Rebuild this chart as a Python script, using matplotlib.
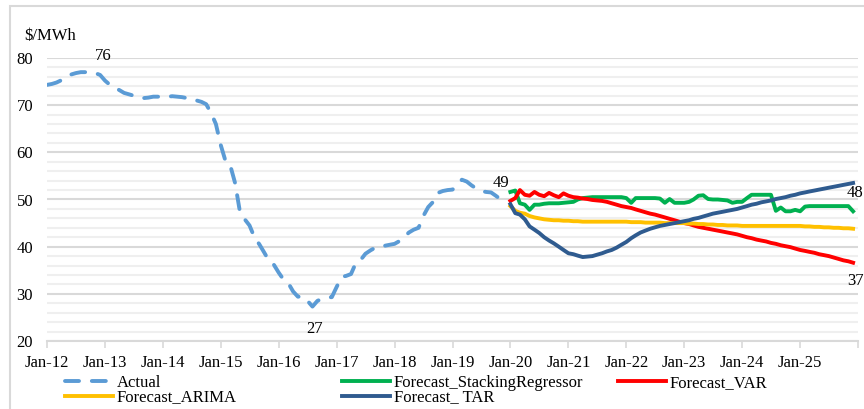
import pandas as pd
import matplotlib.pyplot as plt
import matplotlib.dates as mdates
from matplotlib.patches import Rectangle

plt.rcParams['font.family'] = ['Liberation Serif', 'DejaVu Serif']
plt.rcParams['font.size'] = 12

# monthly actual price, Jan-12 .. Dec-19
actual = [74.3, 74.5, 74.8, 75.3, 76.0, 76.5, 76.8, 77.0, 77.0, 77.0, 76.8, 76.4,
          75.2, 74.3, 73.7, 73.2, 72.6, 72.3, 72.0, 71.7, 71.5, 71.6, 71.8, 71.8,
          71.8, 71.8, 71.9, 71.8, 71.7, 71.5, 71.4, 71.0, 70.7, 70.2, 68.3, 66.0,
          61.5, 58.0, 57.3, 53.5, 47.5, 45.8, 44.5, 42.0, 40.5, 38.8, 37.0, 36.2,
          34.5, 33.0, 32.3, 30.5, 29.4, 29.4, 28.5, 27.3, 28.5, 29.0, 29.2, 29.3,
          31.5, 33.6, 33.8, 34.2, 36.5, 37.2, 38.5, 39.2, 39.8, 40.0, 40.2, 40.4,
          40.6, 41.2, 42.0, 43.0, 43.6, 44.0, 46.5, 48.4, 49.5, 51.4, 51.8, 52.0,
          52.1, 53.0, 54.2, 53.8, 53.0, 52.3, 51.8, 51.6, 51.5, 50.8, 50.0, 49.2]

# forecasts, Jan-20 .. Dec-25
stacking = [51.6, 51.9, 49.2, 48.9, 47.8, 48.9, 48.9, 49.1, 49.2, 49.2, 49.2, 49.3,
            49.4, 49.5, 50.0, 50.3, 50.4, 50.5, 50.5, 50.5, 50.5, 50.5, 50.5, 50.5,
            50.3, 49.3, 50.3, 50.3, 50.3, 50.3, 50.3, 50.2, 49.3, 50.1, 49.3, 49.3,
            49.3, 49.5, 50.0, 50.8, 50.9, 50.1, 50.0, 50.0, 49.9, 49.8, 49.3, 49.5,
            49.5, 50.3, 51.0, 51.0, 51.0, 51.0, 51.0, 47.6, 48.3, 47.5, 47.5, 47.8,
            47.5, 48.5, 48.6, 48.6, 48.6, 48.6, 48.6, 48.6, 48.6, 48.6, 48.6, 47.5]
var = [49.7, 50.3, 52.0, 51.0, 50.8, 51.6, 51.0, 50.7, 51.4, 50.9, 50.5, 51.3,
       50.8, 50.5, 50.4, 50.2, 50.1, 49.9, 49.8, 49.7, 49.5, 49.2, 48.9, 48.6,
       48.4, 48.2, 47.9, 47.6, 47.3, 47.0, 46.8, 46.5, 46.2, 45.9, 45.6, 45.3,
       45.0, 44.8, 44.5, 44.2, 44.0, 43.8, 43.6, 43.4, 43.2, 43.0, 42.8, 42.6,
       42.3, 42.0, 41.8, 41.5, 41.3, 41.1, 40.8, 40.6, 40.3, 40.1, 39.9, 39.6,
       39.3, 39.1, 38.9, 38.7, 38.4, 38.2, 38.0, 37.7, 37.4, 37.1, 36.9, 36.6]
arima = [48.6, 47.6, 47.2, 47.0, 46.5, 46.2, 46.0, 45.8, 45.7, 45.6, 45.6, 45.5,
         45.5, 45.4, 45.4, 45.3, 45.3, 45.3, 45.3, 45.3, 45.3, 45.3, 45.3, 45.3,
         45.3, 45.2, 45.2, 45.2, 45.1, 45.1, 45.1, 45.1, 45.0, 45.0, 45.0, 45.0,
         45.0, 44.9, 44.9, 44.8, 44.8, 44.7, 44.7, 44.6, 44.6, 44.5, 44.5, 44.5,
         44.4, 44.4, 44.4, 44.4, 44.4, 44.4, 44.4, 44.4, 44.4, 44.4, 44.4, 44.4,
         44.4, 44.3, 44.3, 44.2, 44.2, 44.1, 44.1, 44.0, 44.0, 43.9, 43.9, 43.8]
tar = [49.0, 47.1, 46.8, 45.8, 44.3, 43.6, 42.9, 42.0, 41.3, 40.7, 40.0, 39.3,
       38.6, 38.4, 38.1, 37.8, 37.9, 38.0, 38.3, 38.6, 39.0, 39.3, 39.8, 40.4,
       41.0, 41.8, 42.4, 43.0, 43.4, 43.8, 44.1, 44.4, 44.6, 44.8, 45.0, 45.2,
       45.4, 45.6, 45.9, 46.1, 46.4, 46.7, 47.0, 47.2, 47.4, 47.6, 47.8, 48.0,
       48.3, 48.6, 48.9, 49.1, 49.4, 49.6, 49.8, 50.1, 50.3, 50.5, 50.8, 51.0,
       51.3, 51.5, 51.7, 51.9, 52.1, 52.3, 52.5, 52.7, 52.9, 53.1, 53.3, 53.5]

act_dates = pd.date_range('2012-01-01', periods=len(actual), freq='MS')
fc_dates = pd.date_range('2020-01-01', periods=len(tar), freq='MS')

fig = plt.figure(figsize=(8.64, 4.09), dpi=100)
ax = fig.add_axes([47 / 864, 68 / 409, 811 / 864, 283 / 409])

lw = 2.8
l_act, = ax.plot(act_dates, actual, color='#5B9BD5', lw=lw, dashes=(3.6, 3.3),
                 dash_capstyle='round', label='Actual')
l_stk, = ax.plot(fc_dates, stacking, color='#00B050', lw=lw, label='Forecast_StackingRegressor')
l_var, = ax.plot(fc_dates, var, color='#FF0000', lw=lw, label='Forecast_VAR')
l_ari, = ax.plot(fc_dates, arima, color='#FFC000', lw=lw, label='Forecast_ARIMA')
l_tar, = ax.plot(fc_dates, tar, color='#2F5B8F', lw=lw, label='Forecast_ TAR')

# data labels
ax.annotate('76', (act_dates[11], actual[11]), xytext=(2, 14), textcoords='offset points',
            ha='center', va='center')
ax.annotate('27', (act_dates[55], actual[55]), xytext=(1.5, -16.5), textcoords='offset points',
            ha='center', va='center')
ax.annotate('49', (act_dates[-1], actual[-1]), xytext=(-3.6, 14.4), textcoords='offset points',
            ha='center', va='center')
ax.annotate('48', (fc_dates[-1], stacking[-1]), xytext=(1.5, 13.5), textcoords='offset points',
            ha='center', va='center')
ax.annotate('37', (fc_dates[-1], var[-1]), xytext=(1.5, -13.5), textcoords='offset points',
            ha='center', va='center')

# axes
ax.set_ylim(20, 80)
ax.set_yticks(range(20, 81, 10))
ax.set_yticks(range(22, 80, 2), minor=True)
ax.set_xlim(pd.Timestamp('2012-01-01'), pd.Timestamp('2026-01-01'))
ticks = pd.date_range('2012-01-01', '2025-01-01', freq='YS')
ax.set_xticks(ticks)
ax.set_xticklabels([d.strftime('%b-%y') for d in ticks])
ax.set_xticks([mdates.date2num(pd.Timestamp('2026-01-01'))], minor=True)

ax.grid(axis='y', which='major', color='#d9d9d9', lw=1.5)
ax.grid(axis='y', which='minor', color='#efefef', lw=1.5)
ax.set_axisbelow(True)
for s in ['top', 'right', 'left']:
    ax.spines[s].set_visible(False)
ax.spines['bottom'].set_color('#d9d9d9')
ax.spines['bottom'].set_linewidth(1.5)
ax.tick_params(axis='y', which='both', length=0, pad=10, labelsize=12)
ax.tick_params(axis='x', which='both', length=5, width=1.2, color='#d9d9d9', pad=5, labelsize=12)

fig.text(24 / 864, 1 - 36 / 409, '\\$/MWh', ha='left', va='center', fontsize=12)

# legend: three fixed columns like the Excel one
leg_kw = dict(loc='upper left', frameon=False, borderpad=0, borderaxespad=0,
              handlelength=2.9, handletextpad=0.2, labelspacing=-0.1, fontsize=12)
leg1 = fig.legend(handles=[l_act, l_ari], bbox_to_anchor=(65 / 864, 1 - 375 / 409), **leg_kw)
leg2 = fig.legend(handles=[l_stk, l_tar], bbox_to_anchor=(342 / 864, 1 - 375 / 409), **leg_kw)
leg3 = fig.legend(handles=[l_var], bbox_to_anchor=(618 / 864, 1 - 375 / 409), **leg_kw)

# chart border
fig.patches.append(Rectangle((10 / 864, -0.1), 1.1, 1.1 - 6 / 409, transform=fig.transFigure,
                             fill=False, edgecolor='#d9d9d9', lw=1.5))

plt.savefig('out.png', dpi=100)
